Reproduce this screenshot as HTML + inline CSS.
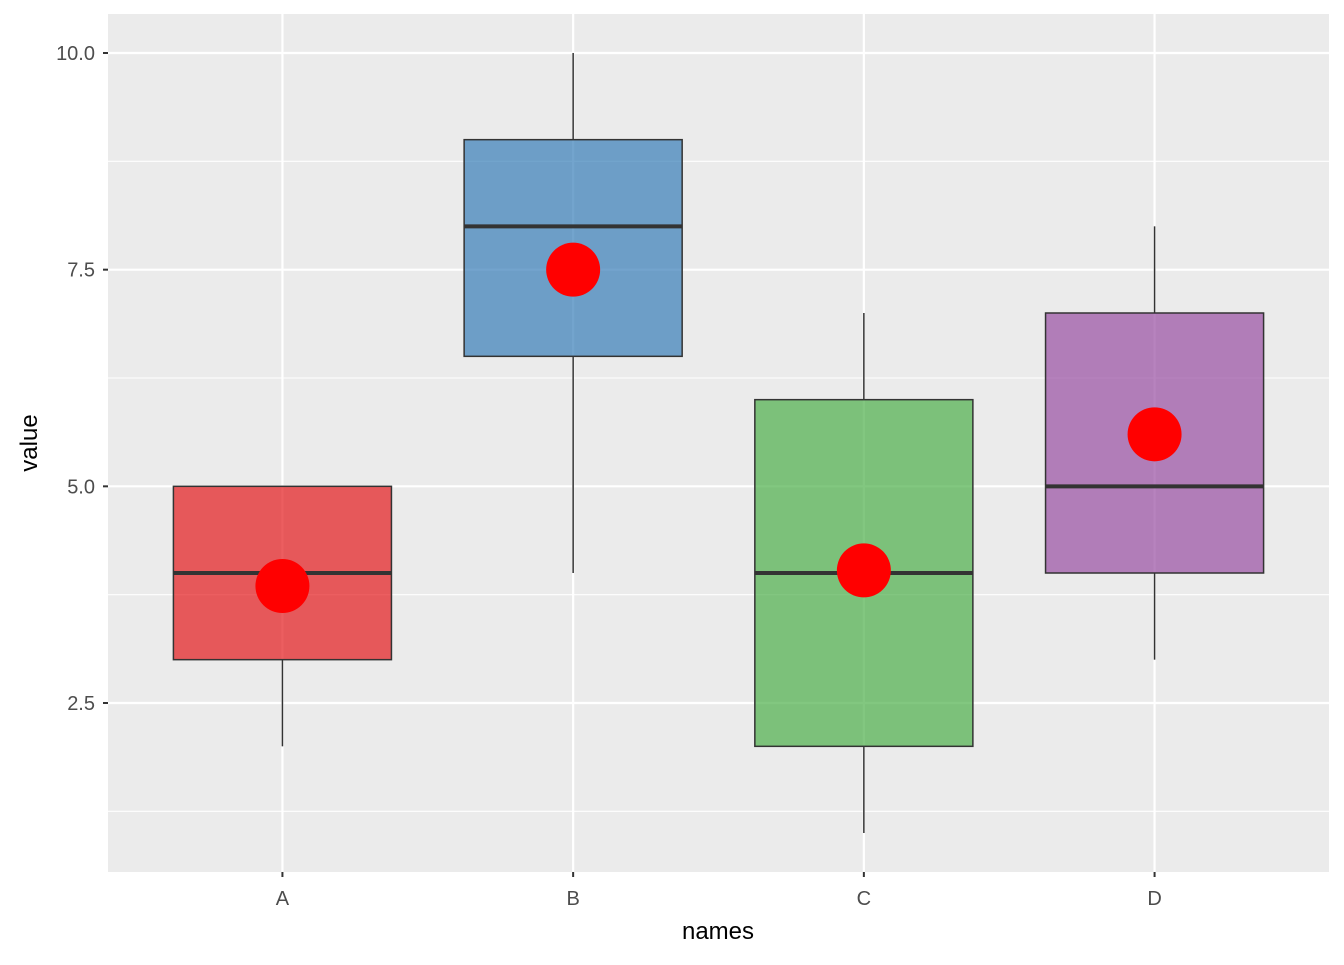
<!DOCTYPE html>
<html><head><meta charset="utf-8"><style>
body{margin:0;background:#fff;}
svg text{font-family:"Liberation Sans",sans-serif;}
</style></head><body>
<svg id="chart" width="1344" height="960" viewBox="0 0 1344 960" xmlns="http://www.w3.org/2000/svg">
<rect x="108" y="14" width="1221" height="858" fill="#EBEBEB"/>
<g id="grid"></g><g id="marks"></g><g id="axes"></g>
<text transform="translate(37,443) rotate(-90)" text-anchor="middle" font-size="24" fill="#000">value</text>
<text x="718" y="939" text-anchor="middle" font-size="24" fill="#000">names</text>
</svg>
<script>
const categories=["A","B","C","D"];
const mins=[2,4,1,3];
const q1s=[3,6.5,2,4];
const medians=[4,8,4,5];
const q3s=[5,9,6,7];
const maxs=[5,10,7,8];
const means=[3.85,7.5,4.03,5.6];
const colors=["#E41A1C","#377EB8","#4DAF4A","#984EA3"];
const yTicks=[2.5,5.0,7.5,10.0];
const yTickLabels=["2.5","5.0","7.5","10.0"];
const yMinor=[1.25,3.75,6.25,8.75];
const NS="http://www.w3.org/2000/svg";
const px0=108,px1=1329,py0=14,py1=872,ymin=0.55,ymax=10.45;
function y(v){return py1-(v-ymin)/(ymax-ymin)*(py1-py0);}
const step=(px1-px0)/(categories.length+0.2);
function x(i){return px0+step*(i+0.6);}
function mk(tag,attrs,parent){const e=document.createElementNS(NS,tag);for(const k in attrs)e.setAttribute(k,attrs[k]);parent.appendChild(e);return e;}
const grid=document.getElementById('grid'),marks=document.getElementById('marks'),axes=document.getElementById('axes');
yMinor.forEach(v=>{const l=mk('line',{x1:px0,x2:px1,y1:y(v),y2:y(v),stroke:'#fff','stroke-width':1.1},grid);

});
yTicks.forEach((v,i)=>{const l=mk('line',{x1:px0,x2:px1,y1:y(v),y2:y(v),stroke:'#fff','stroke-width':2.2},grid);


const t=mk('line',{x1:px0-5,x2:px0,y1:y(v),y2:y(v),stroke:'#333','stroke-width':2},axes);


const tx=mk('text',{x:px0-13,y:y(v)+7,'text-anchor':'end','font-size':20,fill:'#4D4D4D'},axes);tx.textContent=yTickLabels[i];

});
categories.forEach((c,i)=>{const cx=x(i);
const g=mk('line',{x1:cx,x2:cx,y1:py0,y2:py1,stroke:'#fff','stroke-width':2.2},grid);


const t=mk('line',{x1:cx,x2:cx,y1:py1,y2:py1+5,stroke:'#333','stroke-width':2},axes);


const tx=mk('text',{x:cx,y:py1+33,'text-anchor':'middle','font-size':20,fill:'#4D4D4D'},axes);tx.textContent=c;


const w=step*0.75;
const wu=mk('line',{x1:cx,x2:cx,y1:y(maxs[i]),y2:y(q3s[i]),stroke:'#333','stroke-width':1.5},marks);


const wl=mk('line',{x1:cx,x2:cx,y1:y(q1s[i]),y2:y(mins[i]),stroke:'#333','stroke-width':1.5},marks);


const bx=mk('rect',{x:cx-w/2,y:y(q3s[i]),width:w,height:y(q1s[i])-y(q3s[i]),fill:colors[i],'fill-opacity':0.7,stroke:'#333','stroke-width':1.5},marks);


const m=mk('line',{x1:cx-w/2,x2:cx+w/2,y1:y(medians[i]),y2:y(medians[i]),stroke:'#333','stroke-width':4},marks);


const p=mk('circle',{cx:cx,cy:y(means[i]),r:27,fill:'#FF0000'},marks);

});
</script>
</body></html>
